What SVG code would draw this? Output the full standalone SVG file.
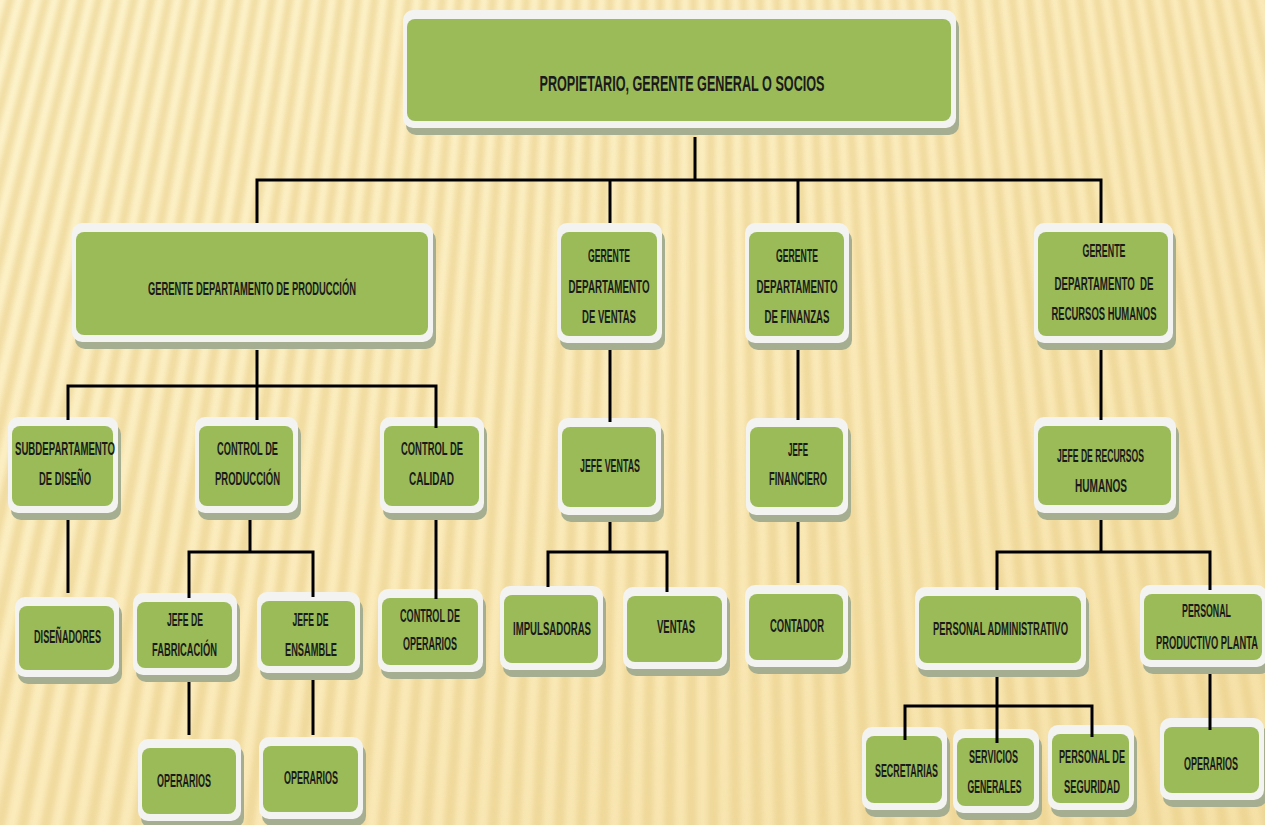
<svg xmlns="http://www.w3.org/2000/svg" xmlns:xlink="http://www.w3.org/1999/xlink" width="1265" height="825" viewBox="0 0 1265 825">
<defs>
<style>
.sh{fill:#a6ae92}
.wb{fill:#f3f3f1}
.gr{fill:#9bbb59}
.t{font-family:"Liberation Sans Narrow","Liberation Sans",Arial,sans-serif;font-size:19px;font-weight:bold;fill:#1a1a1a;text-anchor:middle}
.big{font-size:22px}
.c{stroke:#000;stroke-width:3;fill:none}
</style>
<linearGradient id="bg" x1="0" y1="0" x2="1" y2="1">
<stop offset="0" stop-color="#fdf4cd"/>
<stop offset="0.5" stop-color="#fbebbb"/>
<stop offset="1" stop-color="#f5e0a6"/>
</linearGradient>
<filter id="blur" filterUnits="userSpaceOnUse" x="0" y="0" width="1265" height="825">
<feGaussianBlur stdDeviation="2.4"/>
</filter>
<polygon id="w" points="700,-2600 694.6,900 705.4,900"/>
<g id="g8">
<use xlink:href="#w"/>
<use xlink:href="#w" transform="rotate(-0.368 700 -2600)"/>
<use xlink:href="#w" transform="rotate(-0.736 700 -2600)"/>
<use xlink:href="#w" transform="rotate(-1.104 700 -2600)"/>
<use xlink:href="#w" transform="rotate(-1.472 700 -2600)"/>
<use xlink:href="#w" transform="rotate(-1.84 700 -2600)"/>
<use xlink:href="#w" transform="rotate(-2.208 700 -2600)"/>
<use xlink:href="#w" transform="rotate(-2.576 700 -2600)"/>
</g>
</defs>

<g id="background">
<rect x="0" y="0" width="1265" height="825" fill="url(#bg)"/>
<g filter="url(#blur)" fill="#e9cf8a" opacity="0.6">
<use xlink:href="#g8" transform="rotate(15.6 700 -2600)"/>
<use xlink:href="#g8" transform="rotate(12.656 700 -2600)"/>
<use xlink:href="#g8" transform="rotate(9.712 700 -2600)"/>
<use xlink:href="#g8" transform="rotate(6.768 700 -2600)"/>
<use xlink:href="#g8" transform="rotate(3.824 700 -2600)"/>
<use xlink:href="#g8" transform="rotate(0.88 700 -2600)"/>
<use xlink:href="#g8" transform="rotate(-2.064 700 -2600)"/>
<use xlink:href="#g8" transform="rotate(-5.008 700 -2600)"/>
<use xlink:href="#g8" transform="rotate(-7.952 700 -2600)"/>
<use xlink:href="#g8" transform="rotate(-10.896 700 -2600)"/>
<use xlink:href="#g8" transform="rotate(-13.84 700 -2600)"/>
</g>
</g>

<g id="n-propietario">
<rect class="sh" x="406" y="17" width="553" height="118" rx="10"/>
<rect class="wb" x="403" y="10" width="553" height="118" rx="10"/>
<rect class="gr" x="407" y="19" width="544" height="102" rx="8"/>
<text class="t big" x="682" y="91" textLength="285" lengthAdjust="spacingAndGlyphs">PROPIETARIO, GERENTE GENERAL O SOCIOS</text>
</g>

<g id="n-produccion">
<rect class="sh" x="75" y="230" width="361" height="119" rx="10"/>
<rect class="wb" x="72" y="223" width="361" height="119" rx="10"/>
<rect class="gr" x="76" y="232" width="352" height="103" rx="8"/>
<text class="t" x="252" y="295" textLength="208" lengthAdjust="spacingAndGlyphs">GERENTE DEPARTAMENTO DE PRODUCCIÓN</text>
</g>

<g id="n-ventas">
<rect class="sh" x="560" y="230" width="105" height="120" rx="10"/>
<rect class="wb" x="557" y="223" width="105" height="120" rx="10"/>
<rect class="gr" x="561" y="232" width="96" height="104" rx="8"/>
<text class="t" x="609" y="262" textLength="42" lengthAdjust="spacingAndGlyphs">GERENTE</text>
<text class="t" x="609" y="293" textLength="81" lengthAdjust="spacingAndGlyphs">DEPARTAMENTO</text>
<text class="t" x="609" y="323" textLength="54" lengthAdjust="spacingAndGlyphs">DE VENTAS</text>
</g>

<g id="n-finanzas">
<rect class="sh" x="748" y="230" width="104" height="120" rx="10"/>
<rect class="wb" x="745" y="223" width="104" height="120" rx="10"/>
<rect class="gr" x="749" y="232" width="95" height="104" rx="8"/>
<text class="t" x="797" y="262" textLength="42" lengthAdjust="spacingAndGlyphs">GERENTE</text>
<text class="t" x="797" y="293" textLength="81" lengthAdjust="spacingAndGlyphs">DEPARTAMENTO</text>
<text class="t" x="797" y="323" textLength="65" lengthAdjust="spacingAndGlyphs">DE FINANZAS</text>
</g>

<g id="n-rrhh">
<rect class="sh" x="1037" y="230" width="139" height="120" rx="10"/>
<rect class="wb" x="1034" y="223" width="139" height="120" rx="10"/>
<rect class="gr" x="1038" y="232" width="130" height="104" rx="8"/>
<text class="t" x="1104" y="257" textLength="43" lengthAdjust="spacingAndGlyphs">GERENTE</text>
<text class="t" x="1104" y="290" textLength="99" lengthAdjust="spacingAndGlyphs" xml:space="preserve">DEPARTAMENTO  DE</text>
<text class="t" x="1104" y="320" textLength="105" lengthAdjust="spacingAndGlyphs">RECURSOS HUMANOS</text>
</g>

<g id="n-subdep-diseno">
<rect class="sh" x="11" y="424" width="110" height="96" rx="10"/>
<rect class="wb" x="8" y="417" width="110" height="96" rx="10"/>
<rect class="gr" x="12" y="426" width="101" height="80" rx="8"/>
<text class="t" x="65" y="455" textLength="100" lengthAdjust="spacingAndGlyphs">SUBDEPARTAMENTO</text>
<text class="t" x="65" y="485" textLength="52" lengthAdjust="spacingAndGlyphs">DE DISEÑO</text>
</g>

<g id="n-control-produccion">
<rect class="sh" x="198" y="424" width="103" height="96" rx="10"/>
<rect class="wb" x="195" y="417" width="103" height="96" rx="10"/>
<rect class="gr" x="199" y="426" width="94" height="80" rx="8"/>
<text class="t" x="247.5" y="455" textLength="61" lengthAdjust="spacingAndGlyphs">CONTROL DE</text>
<text class="t" x="247.5" y="485" textLength="65" lengthAdjust="spacingAndGlyphs">PRODUCCIÓN</text>
</g>

<g id="n-control-calidad">
<rect class="sh" x="383" y="424" width="104" height="96" rx="10"/>
<rect class="wb" x="380" y="417" width="104" height="96" rx="10"/>
<rect class="gr" x="384" y="426" width="95" height="80" rx="8"/>
<text class="t" x="432" y="455" textLength="62" lengthAdjust="spacingAndGlyphs">CONTROL DE</text>
<text class="t" x="431.5" y="485" textLength="45" lengthAdjust="spacingAndGlyphs">CALIDAD</text>
</g>

<g id="n-jefe-ventas">
<rect class="sh" x="561" y="425" width="103" height="97" rx="10"/>
<rect class="wb" x="558" y="418" width="103" height="97" rx="10"/>
<rect class="gr" x="562" y="427" width="94" height="80" rx="8"/>
<text class="t" x="610" y="472" textLength="60" lengthAdjust="spacingAndGlyphs">JEFE VENTAS</text>
</g>

<g id="n-jefe-financiero">
<rect class="sh" x="749" y="425" width="102" height="97" rx="10"/>
<rect class="wb" x="746" y="418" width="102" height="97" rx="10"/>
<rect class="gr" x="750" y="427" width="93" height="80" rx="8"/>
<text class="t" x="798" y="456" textLength="20" lengthAdjust="spacingAndGlyphs">JEFE</text>
<text class="t" x="798" y="485" textLength="58" lengthAdjust="spacingAndGlyphs">FINANCIERO</text>
</g>

<g id="n-jefe-rrhh">
<rect class="sh" x="1037" y="424" width="142" height="96" rx="10"/>
<rect class="wb" x="1034" y="417" width="142" height="96" rx="10"/>
<rect class="gr" x="1038" y="426" width="133" height="79" rx="8"/>
<text class="t" x="1100.5" y="462" textLength="87" lengthAdjust="spacingAndGlyphs">JEFE DE RECURSOS</text>
<text class="t" x="1101" y="492" textLength="52" lengthAdjust="spacingAndGlyphs">HUMANOS</text>
</g>

<g id="n-disenadores">
<rect class="sh" x="18" y="604" width="104" height="80" rx="10"/>
<rect class="wb" x="15" y="597" width="104" height="80" rx="10"/>
<rect class="gr" x="19" y="606" width="95" height="64" rx="8"/>
<text class="t" x="67.5" y="643" textLength="67" lengthAdjust="spacingAndGlyphs">DISEÑADORES</text>
</g>

<g id="n-jefe-fabricacion">
<rect class="sh" x="136" y="600" width="104" height="82" rx="10"/>
<rect class="wb" x="133" y="593" width="104" height="82" rx="10"/>
<rect class="gr" x="137" y="602" width="95" height="66" rx="8"/>
<text class="t" x="185" y="626" textLength="36" lengthAdjust="spacingAndGlyphs">JEFE DE</text>
<text class="t" x="184.5" y="656" textLength="65" lengthAdjust="spacingAndGlyphs">FABRICACIÓN</text>
</g>

<g id="n-jefe-ensamble">
<rect class="sh" x="260" y="599" width="103" height="81" rx="10"/>
<rect class="wb" x="257" y="592" width="103" height="81" rx="10"/>
<rect class="gr" x="261" y="601" width="94" height="65" rx="8"/>
<text class="t" x="310.5" y="626" textLength="36" lengthAdjust="spacingAndGlyphs">JEFE DE</text>
<text class="t" x="311" y="656" textLength="52" lengthAdjust="spacingAndGlyphs">ENSAMBLE</text>
</g>

<g id="n-control-operarios">
<rect class="sh" x="381" y="596" width="105" height="83" rx="10"/>
<rect class="wb" x="378" y="589" width="105" height="83" rx="10"/>
<rect class="gr" x="382" y="598" width="96" height="67" rx="8"/>
<text class="t" x="430" y="622" textLength="60" lengthAdjust="spacingAndGlyphs">CONTROL DE</text>
<text class="t" x="430" y="650" textLength="54" lengthAdjust="spacingAndGlyphs">OPERARIOS</text>
</g>

<g id="n-operarios-fab">
<rect class="sh" x="141" y="746" width="103" height="82" rx="10"/>
<rect class="wb" x="138" y="739" width="103" height="82" rx="10"/>
<rect class="gr" x="142" y="748" width="94" height="66" rx="8"/>
<text class="t" x="184" y="787" textLength="54" lengthAdjust="spacingAndGlyphs">OPERARIOS</text>
</g>

<g id="n-operarios-ens">
<rect class="sh" x="262" y="744" width="104" height="82" rx="10"/>
<rect class="wb" x="259" y="737" width="104" height="82" rx="10"/>
<rect class="gr" x="263" y="746" width="95" height="66" rx="8"/>
<text class="t" x="311" y="784" textLength="54" lengthAdjust="spacingAndGlyphs">OPERARIOS</text>
</g>

<g id="n-impulsadoras">
<rect class="sh" x="503" y="593" width="103" height="84" rx="10"/>
<rect class="wb" x="500" y="586" width="103" height="84" rx="10"/>
<rect class="gr" x="504" y="595" width="94" height="68" rx="8"/>
<text class="t" x="552" y="635" textLength="78" lengthAdjust="spacingAndGlyphs">IMPULSADORAS</text>
</g>

<g id="n-ventas-op">
<rect class="sh" x="626" y="594" width="104" height="82" rx="10"/>
<rect class="wb" x="623" y="587" width="104" height="82" rx="10"/>
<rect class="gr" x="627" y="596" width="95" height="66" rx="8"/>
<text class="t" x="676" y="633" textLength="38" lengthAdjust="spacingAndGlyphs">VENTAS</text>
</g>

<g id="n-contador">
<rect class="sh" x="748" y="592" width="103" height="82" rx="10"/>
<rect class="wb" x="745" y="585" width="103" height="82" rx="10"/>
<rect class="gr" x="749" y="594" width="94" height="66" rx="8"/>
<text class="t" x="797" y="632" textLength="54" lengthAdjust="spacingAndGlyphs">CONTADOR</text>
</g>

<g id="n-personal-administrativo">
<rect class="sh" x="918" y="594" width="171" height="83" rx="10"/>
<rect class="wb" x="915" y="587" width="171" height="83" rx="10"/>
<rect class="gr" x="919" y="596" width="162" height="67" rx="8"/>
<text class="t" x="1000.5" y="635" textLength="135" lengthAdjust="spacingAndGlyphs">PERSONAL ADMINISTRATIVO</text>
</g>

<g id="n-personal-productivo">
<rect class="sh" x="1143" y="592" width="127" height="82" rx="10"/>
<rect class="wb" x="1140" y="585" width="127" height="82" rx="10"/>
<rect class="gr" x="1144" y="594" width="118" height="66" rx="8"/>
<text class="t" x="1206.5" y="617" textLength="49" lengthAdjust="spacingAndGlyphs">PERSONAL</text>
<text class="t" x="1207" y="649" textLength="102" lengthAdjust="spacingAndGlyphs">PRODUCTIVO PLANTA</text>
</g>

<g id="n-secretarias">
<rect class="sh" x="865" y="734" width="85" height="83" rx="10"/>
<rect class="wb" x="862" y="727" width="85" height="83" rx="10"/>
<rect class="gr" x="866" y="736" width="76" height="67" rx="8"/>
<text class="t" x="906.5" y="777" textLength="63" lengthAdjust="spacingAndGlyphs">SECRETARIAS</text>
</g>

<g id="n-servicios-generales">
<rect class="sh" x="956" y="736" width="86" height="84" rx="10"/>
<rect class="wb" x="953" y="729" width="86" height="84" rx="10"/>
<rect class="gr" x="957" y="738" width="77" height="68" rx="8"/>
<text class="t" x="993.5" y="763" textLength="49" lengthAdjust="spacingAndGlyphs">SERVICIOS</text>
<text class="t" x="994.5" y="793" textLength="54" lengthAdjust="spacingAndGlyphs">GENERALES</text>
</g>

<g id="n-personal-seguridad">
<rect class="sh" x="1051" y="732" width="86" height="85" rx="10"/>
<rect class="wb" x="1048" y="725" width="86" height="85" rx="10"/>
<rect class="gr" x="1052" y="734" width="77" height="69" rx="8"/>
<text class="t" x="1092" y="763" textLength="66" lengthAdjust="spacingAndGlyphs">PERSONAL DE</text>
<text class="t" x="1092" y="793" textLength="56" lengthAdjust="spacingAndGlyphs">SEGURIDAD</text>
</g>

<g id="n-operarios-planta">
<rect class="sh" x="1163" y="725" width="104" height="82" rx="10"/>
<rect class="wb" x="1160" y="718" width="104" height="82" rx="10"/>
<rect class="gr" x="1164" y="727" width="95" height="66" rx="8"/>
<text class="t" x="1211" y="770" textLength="54" lengthAdjust="spacingAndGlyphs">OPERARIOS</text>
</g>

<g id="connectors" class="c">
<path d="M695 137V180M255.5 180H1102.5M257 180V223M610 180V223M798 180V223M1101 180V223"/>
<path d="M257 350V386M66.5 386H437.5M68 386V420M257 386V420M436 386V428"/>
<path d="M68 520V593M250 520V552M187.5 552H314.5M189 552V598M313 552V597M436 520V599M189 682V735M313 680V735"/>
<path d="M610 350V422M610 522V552M546.5 552H668.5M548 552V587M667 552V592M798 350V420M798 522V583"/>
<path d="M1101 350V420M1101 520V552M995.5 552H1211.5M997 552V590M1210 552V590M997 677V706M903.5 706H1093.5M905 706V740M997 706V743M1092 706V737M1210 674V730"/>
</g>
</svg>
